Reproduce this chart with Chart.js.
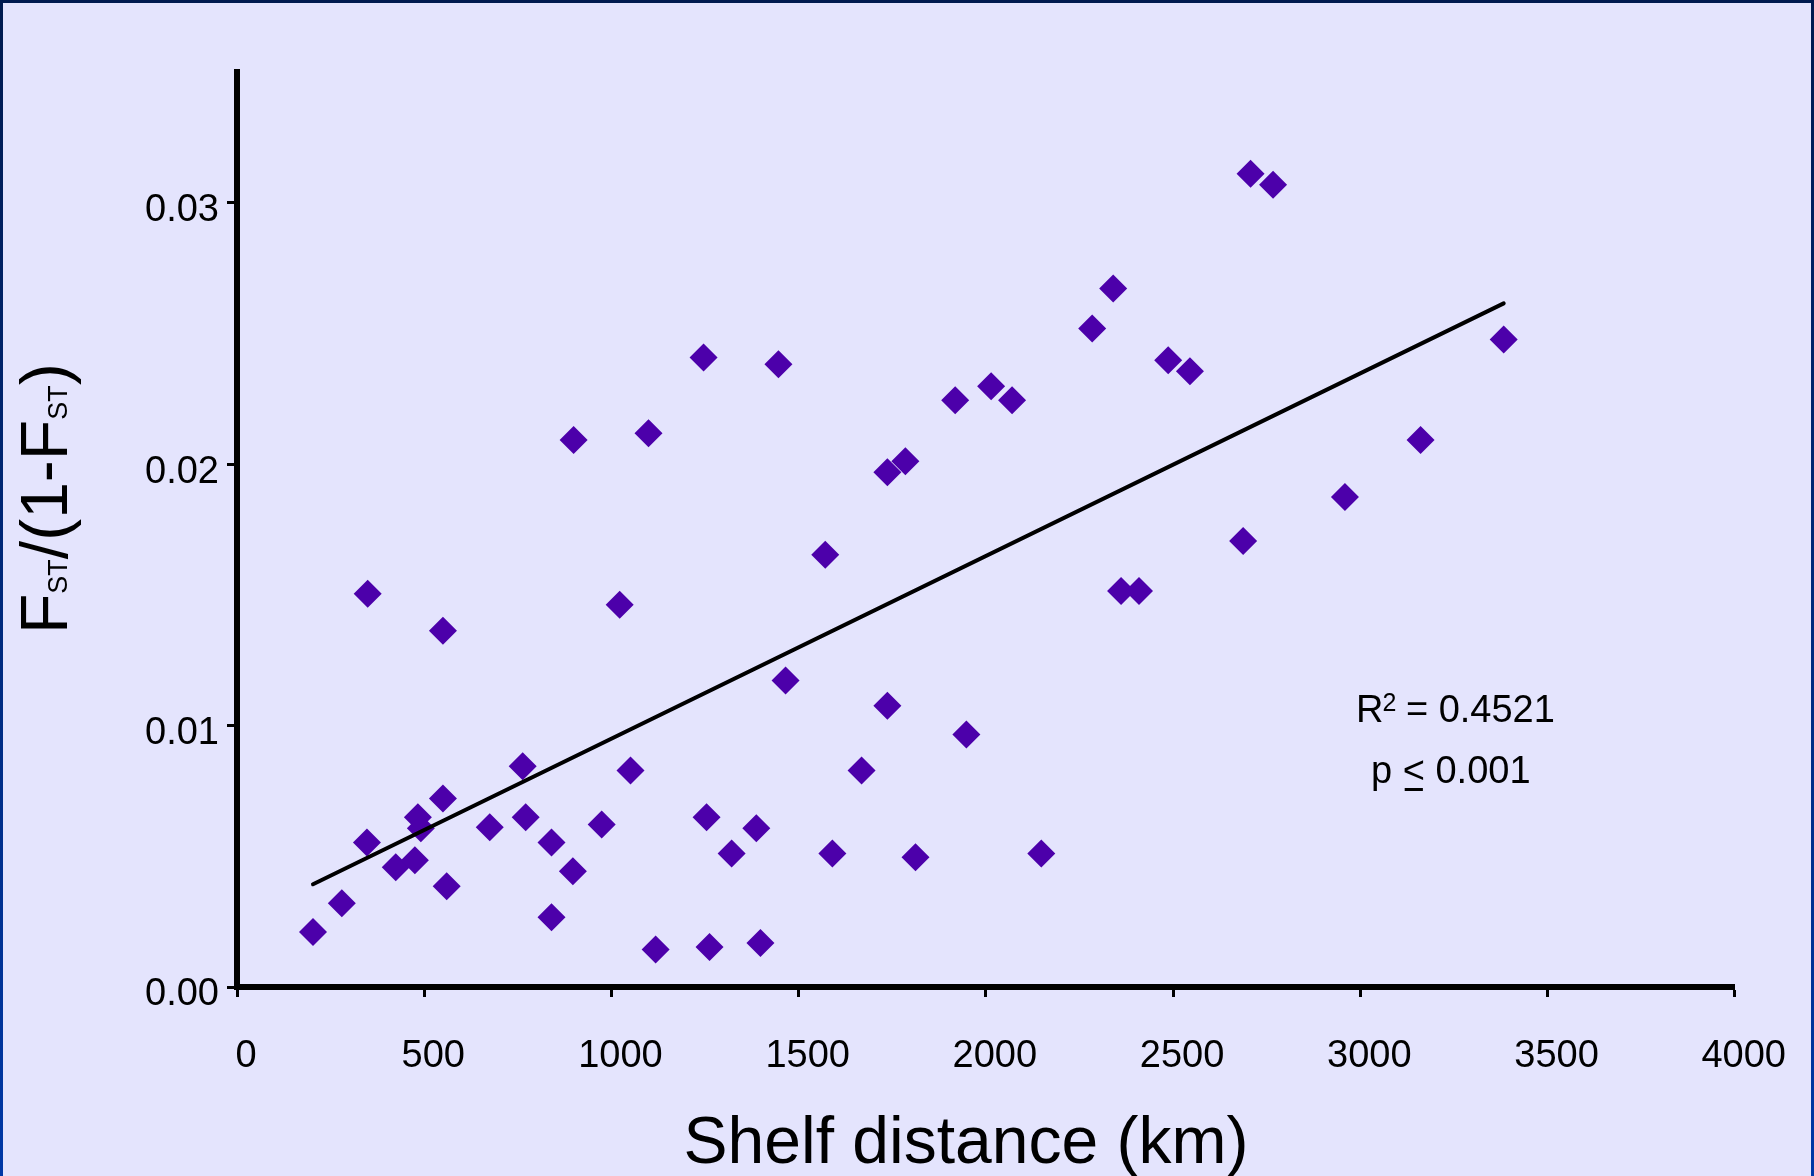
<!DOCTYPE html>
<html>
<head>
<meta charset="utf-8">
<script src="https://cdn.jsdelivr.net/npm/chart.js@4"></script>
<style>
  html, body { margin: 0; padding: 0; background: #e4e4fd; }
  #chart { display: block; }
</style>
</head>
<body>
<canvas id="chart" width="1814" height="1176"></canvas>
<script>
// shelf distance (km) and Fst/(1-Fst) for each population pair
const distanceKm = [203, 280, 347, 349, 424, 475, 483, 491, 550, 550, 560, 675, 763, 771, 840, 840, 897, 899, 974, 1022,
  1051, 1099, 1118, 1246, 1254, 1262, 1321, 1387, 1398, 1446, 1465, 1571, 1590, 1668, 1737, 1737, 1785, 1812, 1918, 1948,
  2014, 2070, 2148, 2284, 2340, 2361, 2409, 2487, 2545, 2687, 2707, 2767, 2959, 3161, 3383];
const fstRatio = [0.0021, 0.0032, 0.00553, 0.01504, 0.00458, 0.00485, 0.00649, 0.00607, 0.00721, 0.01363, 0.00385, 0.00611, 0.00844, 0.00649, 0.00553, 0.00267, 0.00443, 0.02092, 0.00622, 0.01462,
  0.00828, 0.02118, 0.00143, 0.02408, 0.00649, 0.00153, 0.00511, 0.00607, 0.00168, 0.02382, 0.01172, 0.01653, 0.00511, 0.00828, 0.01969, 0.01076, 0.02011, 0.00496, 0.02244, 0.00966,
  0.02298, 0.02244, 0.00511, 0.02519, 0.02672, 0.01515, 0.01515, 0.02397, 0.02355, 0.01706, 0.03111, 0.03069, 0.01874, 0.02092, 0.02477];

// regression line end points
const fitX = [203, 3383];
const fitY = [0.00393, 0.02615];

const xTicks = [0, 500, 1000, 1500, 2000, 2500, 3000, 3500, 4000];
const yTicks = [0, 0.01, 0.02, 0.03];

const FONT = "'Liberation Sans', Arial, Helvetica, sans-serif";

const frame = {
  id: "frame",
  beforeDraw(chart) {
    const c = chart.ctx, w = chart.width, h = chart.height;
    c.save();
    const g = c.createLinearGradient(0, 0, 0, h);
    g.addColorStop(0, "#001a4f");
    g.addColorStop(1, "#0038a6");
    c.fillStyle = g;
    c.fillRect(0, 0, w, h);
    c.fillStyle = "#e4e4fd";
    c.fillRect(3, 3, w - 6, h - 3);
    c.restore();
  },
  afterDraw(chart) {
    const c = chart.ctx;
    c.save();
    c.fillStyle = "#000";
    c.textBaseline = "alphabetic";

    // y title: Fst/(1-Fst), rotated
    c.translate(67, 634);
    c.rotate(-Math.PI / 2);
    let x = 0;
    const part = (t, size) => {
      c.font = size + "px " + FONT;
      c.fillText(t, x, 0);
      x += c.measureText(t).width;
    };
    part("F", 66); part("ST", 27); part("/(1-F", 66); part("ST", 27); part(")", 66);
    c.setTransform(1, 0, 0, 1, 0, 0);

    // x title
    c.font = "66px " + FONT;
    c.textAlign = "center";
    c.fillText("Shelf distance (km)", 966, 1163);

    // stats
    c.textAlign = "left";
    c.font = "38px " + FONT;
    c.fillText("R", 1356, 722);
    let rx = 1356 + c.measureText("R").width;
    c.font = "25px " + FONT;
    c.fillText("2", rx - 1, 711);
    rx += c.measureText("2").width;
    c.font = "38px " + FONT;
    c.fillText(" = 0.4521", rx - 2, 722);

    c.fillText("p ", 1371, 783);
    let px = 1371 + c.measureText("p ").width;
    c.fillText("<", px, 783);
    const lw = c.measureText("<").width;
    c.fillRect(px + 2, 788, lw - 4, 3);
    px += lw;
    c.fillText(" 0.001", px, 783);
    c.restore();
  }
};

new Chart(document.getElementById("chart"), {
  type: "scatter",
  data: {
    datasets: [
      {
        type: "line",
        data: fitX.map((v, i) => ({ x: v, y: fitY[i] })),
        borderColor: "#000",
        borderWidth: 4,
        borderCapStyle: "round",
        pointRadius: 0,
        fill: false
      },
      {
        data: distanceKm.map((v, i) => ({ x: v, y: fstRatio[i] })),
        pointStyle: "rectRot",
        pointRadius: 14,
        pointBackgroundColor: "#4c00aa",
        pointBorderWidth: 0,
        pointHoverRadius: 14
      }
    ]
  },
  options: {
    responsive: false,
    animation: false,
    devicePixelRatio: 1,
    layout: { padding: { top: 72, right: 78, left: 0, bottom: 0 } },
    plugins: { legend: { display: false }, tooltip: { enabled: false } },
    scales: {
      x: {
        type: "linear",
        min: 0,
        max: 4000,
        afterFit: s => { s.height = 189; },
        afterBuildTicks: s => { s.ticks = xTicks.map(v => ({ value: v })); },
        border: { display: true, color: "#000", width: 6 },
        grid: { drawOnChartArea: false, drawTicks: true, tickLength: 10, tickWidth: 3, tickColor: "#000" },
        ticks: { color: "#000", font: { family: FONT, size: 38 }, padding: 37, labelOffset: 9, maxRotation: 0,
          callback: v => String(v) }
      },
      y: {
        type: "linear",
        min: 0,
        max: 0.035,
        afterFit: s => { s.width = 237; },
        afterBuildTicks: s => { s.ticks = yTicks.map(v => ({ value: v })); },
        border: { display: true, color: "#000", width: 6 },
        grid: { drawOnChartArea: false, drawTicks: true, tickLength: 10, tickWidth: 3, tickColor: "#000" },
        ticks: { color: "#000", font: { family: FONT, size: 38 }, padding: 8, labelOffset: 8,
          callback: v => v.toFixed(2) }
      }
    }
  },
  plugins: [frame]
});
</script>
</body>
</html>
